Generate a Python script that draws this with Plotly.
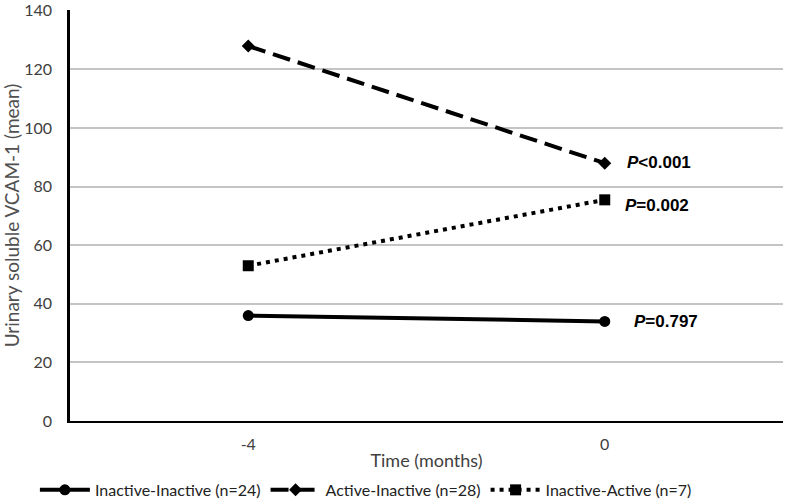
import plotly.graph_objects as go

time = ["-4", "0"]
inactive_inactive = [36, 34]
active_inactive = [128, 88]
inactive_active = [53, 75.5]
series_names = ["Inactive-Inactive (n=24)", "Active-Inactive (n=28)", "Inactive-Active (n=7)"]
p_labels = ["<i>P</i>=0.797", "<i>P</i><0.001", "<i>P</i>=0.002"]
y_ticks = [0, 20, 40, 60, 80, 100, 120, 140]

FONT = "Lato"
fig = go.Figure()
styles = [("solid", "circle", 11), ("18px,8px", "diamond", 10), ("4px,5px", "square", 11)]
for name, vals, (dash, sym, msize) in zip(series_names, [inactive_inactive, active_inactive, inactive_active], styles):
    fig.add_trace(go.Scatter(
        x=time, y=vals, name=name, mode="lines+markers",
        line=dict(color="black", width=4, dash=dash),
        marker=dict(symbol=sym, size=msize, color="black"),
    ))

# P-value annotations (offsets in px from the last point)
ann_shift = [(27, 0), (20, 1), (18, -6)]
for vals, (xs, ys), txt in zip([inactive_inactive, active_inactive, inactive_active], ann_shift, p_labels):
    fig.add_annotation(x=len(time) - 1, y=vals[1], text="<b>" + txt + "</b>", showarrow=False,
                       xanchor="left", yanchor="middle", xshift=xs, yshift=ys,
                       font=dict(family="Liberation Sans", size=17, color="black"))

fig.update_layout(
    width=787, height=502,
    margin=dict(l=70, r=4, t=10, b=81, autoexpand=False),
    plot_bgcolor="white", paper_bgcolor="white",
    font=dict(family=FONT, color="#404040", size=16),
    showlegend=True,
    legend=dict(orientation="h", x=0.415, xanchor="center", yref="container", y=0.024, yanchor="middle",
                font=dict(size=16, color="#222222"), itemwidth=50, tracegroupgap=0),
    xaxis=dict(type="category", range=[-0.5, 1.5],
               showgrid=False, zeroline=False, showline=True, linecolor="black", linewidth=2,
               ticks="", tickfont=dict(size=16, color="#404040"), ticklabelstandoff=8,
               title=dict(text="Time (months)", font=dict(size=18, color="#404040"), standoff=2)),
    yaxis=dict(range=[0, 140.3], tickvals=y_ticks, showgrid=True, gridcolor="#c4c4c4", gridwidth=1.5,
               zeroline=False, showline=True, linecolor="black", linewidth=2.5,
               ticks="", tickfont=dict(size=16, color="#404040"), ticklabelstandoff=12,
               title=dict(text="Urinary soluble VCAM-1 (mean)", font=dict(size=19, color="#505050"), standoff=5)),
)
fig.write_html("out.html", config={"displayModeBar": False},
               post_script="document.body.style.margin='0';")
